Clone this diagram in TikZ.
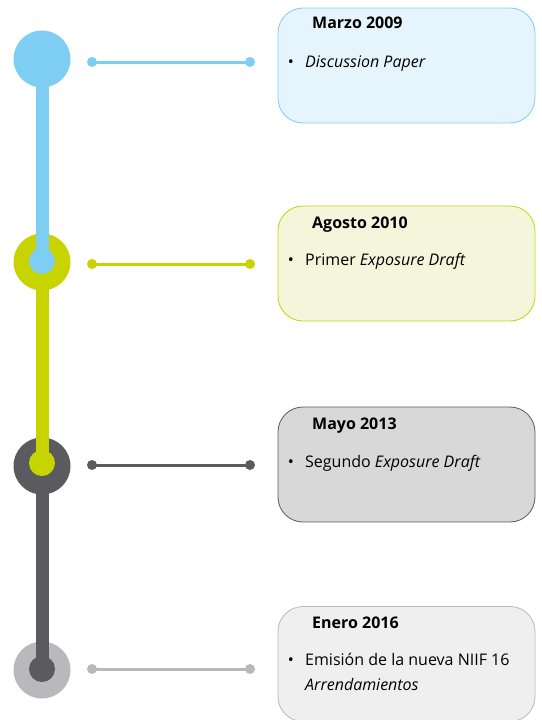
\documentclass[tikz,border=0pt]{standalone}
\usepackage{fontspec}
\setmainfont{Open Sans}
\definecolor{tlblue}{HTML}{7ECEF4}
\definecolor{tlgreen}{HTML}{C8D400}
\definecolor{tldark}{HTML}{5B5A5E}
\definecolor{tlgray}{HTML}{B8B8BD}
\definecolor{fillblue}{HTML}{E6F5FD}
\definecolor{fillgreen}{HTML}{F3F6DA}
\definecolor{filldark}{HTML}{D9D8D8}
\definecolor{fillgray}{HTML}{EFEFEF}
\tikzset{
  bigdot/.style={circle, minimum size=57pt, inner sep=0pt, fill=#1},
  smalldot/.style={circle, minimum size=26pt, inner sep=0pt, fill=#1},
  bar/.style={line width=13pt, draw=#1},
  tip/.style={circle, minimum size=10pt, inner sep=0pt, fill=#1},
  link/.style={line width=3pt, draw=#1},
  card/.style={draw=#1, line width=0.8pt, rounded corners=25pt, minimum width=257pt, minimum height=115pt, inner sep=0pt},
  title/.style={anchor=base west, inner sep=0pt, font=\fontsize{16}{19}\selectfont\bfseries},
  item/.style={anchor=base west, inner sep=0pt, font=\fontsize{16}{19}\selectfont, align=left},
  bull/.style={anchor=base, inner sep=0pt, font=\fontsize{16}{19}\selectfont}
}
\begin{document}
\begin{tikzpicture}[x=1pt, y=-1pt]
\useasboundingbox (0,0) rectangle (541,720);

% large milestone discs
\node[bigdot=tlblue]  (c1) at (42,59)  {};
\node[bigdot=tlgreen] (c2) at (42,262) {};
\node[bigdot=tldark]  (c3) at (42,466) {};
\node[bigdot=tlgray]  (c4) at (42,670) {};

% centres of the small discs closing each bar
\coordinate (i2) at (42,261);
\coordinate (i3) at (42,463);
\coordinate (i4) at (42,669);

% bars between milestones
\draw[bar=tlblue]  (c1.center) -- (i2);
\draw[bar=tlgreen] (c2.center) -- (i3);
\draw[bar=tldark]  (c3.center) -- (i4);

\node[smalldot=tlblue]  (d2) at (i2) {};
\node[smalldot=tlgreen] (d3) at (i3) {};
\node[smalldot=tldark]  (d4) at (i4) {};

% connectors to the cards
\node[tip=tlblue]  (a1) at (92,62)  {};
\node[tip=tlblue]  (b1) at (250,62) {};
\node[tip=tlgreen] (a2) at (92,264) {};
\node[tip=tlgreen] (b2) at (250,264) {};
\node[tip=tldark]  (a3) at (92,465) {};
\node[tip=tldark]  (b3) at (250,465) {};
\node[tip=tlgray]  (a4) at (92,669) {};
\node[tip=tlgray]  (b4) at (250,669) {};
\draw[link=tlblue]  (a1.center) -- (b1.center);
\draw[link=tlgreen] (a2.center) -- (b2.center);
\draw[link=tldark]  (a3.center) -- (b3.center);
\draw[link=tlgray]  (a4.center) -- (b4.center);

% cards
\node[card=tlblue,  fill=fillblue]  (k1) at (406.5,65.5)  {};
\node[card=tlgreen, fill=fillgreen] (k2) at (406.5,263.5) {};
\node[card=tldark,  fill=filldark]  (k3) at (406.5,464.5) {};
\node[card=tlgray,  fill=fillgray]  (k4) at (406.5,664)   {};

\node[title] (t1) at (312,28)  {Marzo 2009};
\node[bull]  (p1) at (291,67)  {•};
\node[item]  (x1) at (305,67)  {\itshape Discussion Paper};

\node[title] (t2) at (312,228) {Agosto 2010};
\node[bull]  (p2) at (291,265) {•};
\node[item]  (x2) at (305,265) {Primer \textit{Exposure Draft}};

\node[title] (t3) at (312,429) {Mayo 2013};
\node[bull]  (p3) at (291,467) {•};
\node[item]  (x3) at (305,467) {Segundo \textit{Exposure Draft}};

\node[title] (t4) at (312,628) {Enero 2016};
\node[bull]  (p4) at (291,665) {•};
\node[item]  (x4) at (305,665) {Emisión de la nueva NIIF 16};
\node[item]  (y4) at (305,690) {\itshape Arrendamientos};
\end{tikzpicture}
\end{document}
